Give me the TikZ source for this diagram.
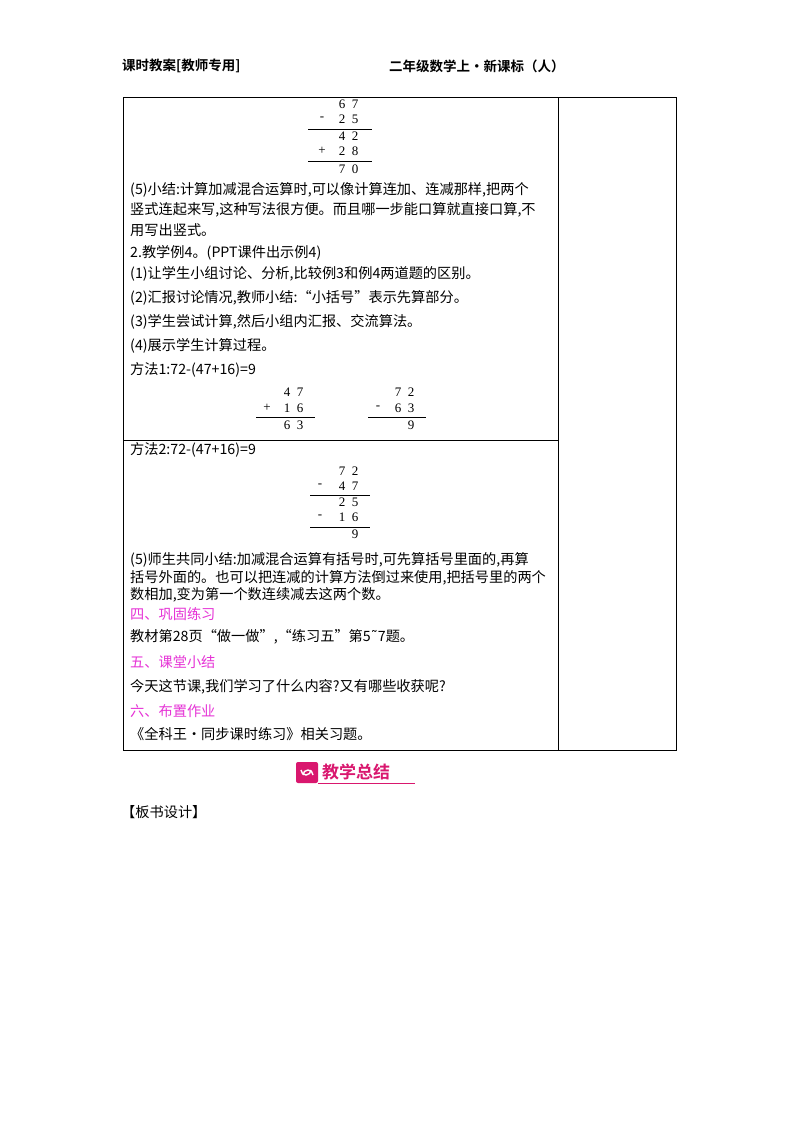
\documentclass[tikz,border=0pt]{standalone}
\usepackage{fontspec}
\setmainfont{Liberation Serif}
\newfontfamily\cjk{Noto Sans CJK SC}
\newfontfamily\cjkb{Noto Sans CJK SC Bold}
\newfontfamily\tildefont{DejaVu Sans}
\definecolor{mag}{HTML}{E633D6}
\definecolor{badge}{HTML}{D9176E}
\begin{document}
\begin{tikzpicture}[x=1pt,y=-1pt,
  txt/.style={anchor=west,inner sep=0pt,font=\fontsize{14.2}{14.2}\selectfont\cjk},
  hd/.style={txt,text=mag},
  dg/.style={inner sep=0pt,font=\fontsize{13}{13}\selectfont},
  rule/.style={line width=0.5pt}]
\useasboundingbox (0,0) rectangle (800,1132);
\fill[white] (0,0) rectangle (800,1132);
% header
\node[txt,font=\fontsize{13.5}{13.5}\selectfont\cjkb] (h1) at (122,66) {课时教案[教师专用]};
\node[txt,font=\fontsize{13.5}{13.5}\selectfont\cjkb] (h2) at (389,66) {二年级数学上·新课标（人）};
% table
\draw[line width=0.9pt] (123,97) rectangle (676,750);
\draw[line width=0.9pt] (558,97) -- (558,750);
\draw[line width=0.9pt] (123,440) -- (558,440);
% calc 1
\node[dg] (a1) at (342,104) {6}; \node[dg] at (355,104) {7};
\node[dg] at (322,119) {-}; \node[dg] at (342,119) {2}; \node[dg] at (355,119) {5};
\draw[rule] (308,129) -- (372,129);
\node[dg] at (342,136) {4}; \node[dg] at (355,136) {2};
\node[dg] at (322,151) {+}; \node[dg] at (342,151) {2}; \node[dg] at (355,151) {8};
\draw[rule] (308,161) -- (372,161);
\node[dg] at (342,169) {7}; \node[dg] at (355,169) {0};
% text
\node[txt] (t1) at (130,190) {(5)小结:计算加减混合运算时,可以像计算连加、连减那样,把两个};
\node[txt] (t2) at (130,210) {竖式连起来写,这种写法很方便。而且哪一步能口算就直接口算,不};
\node[txt] (t3) at (130,230) {用写出竖式。};
\node[txt] (t4) at (130,253) {2.教学例4。(PPT课件出示例4)};
\node[txt] (t5) at (130,274) {(1)让学生小组讨论、分析,比较例3和例4两道题的区别。};
\node[txt] (t6) at (130,298) {(2)汇报讨论情况,教师小结:“小括号”表示先算部分。};
\node[txt] (t7) at (130,322) {(3)学生尝试计算,然后小组内汇报、交流算法。};
\node[txt] (t8) at (130,346) {(4)展示学生计算过程。};
\node[txt] (t9) at (130,370) {方法1:72-(47+16)=9};
% calc 2
\node[dg] at (287,392) {4}; \node[dg] at (300,392) {7};
\node[dg] at (267,408) {+}; \node[dg] at (287,408) {1}; \node[dg] at (300,408) {6};
\draw[rule] (256,417) -- (315,417);
\node[dg] at (287,425) {6}; \node[dg] at (300,425) {3};
\node[dg] at (398,392) {7}; \node[dg] at (411,392) {2};
\node[dg] at (378,408) {-}; \node[dg] at (398,408) {6}; \node[dg] at (411,408) {3};
\draw[rule] (368,417) -- (426,417);
\node[dg] at (411,425) {9};
\node[txt] (t10) at (130,450) {方法2:72-(47+16)=9};
% calc 3
\node[dg] at (342,471) {7}; \node[dg] at (355,471) {2};
\node[dg] at (320,486) {-}; \node[dg] at (342,486) {4}; \node[dg] at (355,486) {7};
\draw[rule] (310,495) -- (370,495);
\node[dg] at (342,502) {2}; \node[dg] at (355,502) {5};
\node[dg] at (320,517) {-}; \node[dg] at (342,517) {1}; \node[dg] at (355,517) {6};
\draw[rule] (310,527) -- (370,527);
\node[dg] at (355,534) {9};
\node[txt] (t11) at (130,560) {(5)师生共同小结:加减混合运算有括号时,可先算括号里面的,再算};
\node[txt] (t12) at (130,578) {括号外面的。也可以把连减的计算方法倒过来使用,把括号里的两个};
\node[txt] (t13) at (130,595) {数相加,变为第一个数连续减去这两个数。};
\node[hd] (s4) at (130,614) {四、巩固练习};
\node[txt] (t14) at (130,637) {教材第28页“做一做”,“练习五”第5{\tildefont\char"02DC}7题。};
\node[hd] (s5) at (130,662) {五、课堂小结};
\node[txt] (t15) at (130,687) {今天这节课,我们学习了什么内容?又有哪些收获呢?};
\node[hd] (s6) at (130,711) {六、布置作业};
\node[txt] (t16) at (130,734) {《全科王·同步课时练习》相关习题。};
% badge
\fill[badge,rounded corners=2pt] (296,762) rectangle (318,783);
\draw[white,line width=1.4pt] (301,770) arc[start angle=180,end angle=360,radius=5pt];
\draw[white,line width=1.4pt] (313,775) arc[start angle=0,end angle=180,radius=5pt];
\node[anchor=west,inner sep=0pt,text=badge,font=\fontsize{17}{17}\selectfont\cjkb] (b) at (322,772) {教学总结};
\draw[badge,line width=0.6pt] (318,783.5) -- (415,783.5);
\node[txt] (bs) at (121,812) {【板书设计】};
\end{tikzpicture}
\end{document}
